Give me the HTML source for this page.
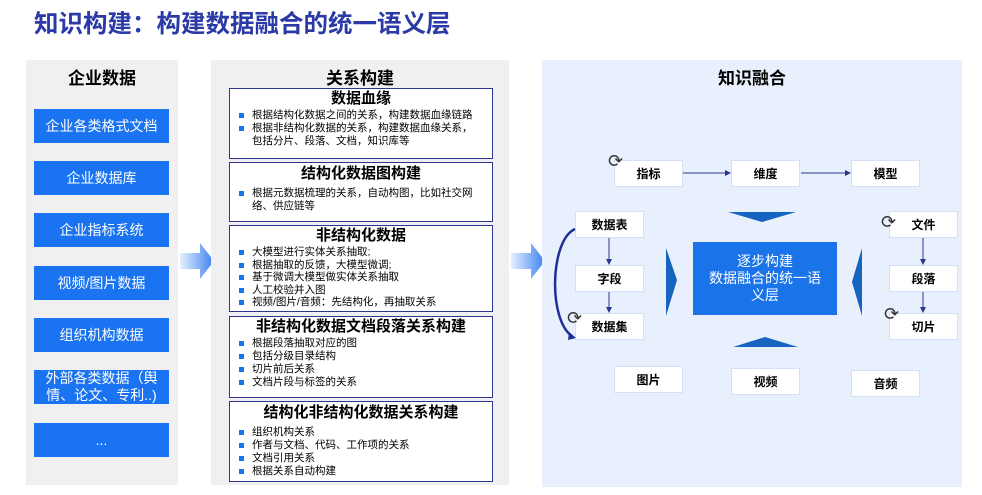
<!DOCTYPE html>
<html><head><meta charset="utf-8"><style>
*{margin:0;padding:0;box-sizing:border-box}
body{width:982px;height:495px;background:#fff;position:relative;overflow:hidden;font-family:"Liberation Sans","Noto Sans CJK SC",sans-serif}
.a{position:absolute}
.t{font-weight:bold;color:#000;text-align:center}
.lb{position:absolute;left:34px;width:135px;height:34px;background:#1a73f0;color:#fff;font-size:14px;display:flex;align-items:center;justify-content:center;text-align:center;line-height:17px}
.mb{position:absolute;left:229px;width:264px;border:1.5px solid #2c3590;background:#fff}
.mb h4{font-size:15px;text-align:center;font-weight:bold;line-height:20px}
.mb ul{list-style:none;font-size:10.5px;line-height:13px;padding-left:8px;padding-right:10px}
.mb li{position:relative;padding-left:14px}
.mb li:before{content:"";position:absolute;left:1px;top:4px;width:5px;height:5px;background:#1a73f0}
.n{position:absolute;width:69px;height:27px;background:#fff;border:1px solid #d4e0f5;font-size:12px;font-weight:bold;display:flex;align-items:center;justify-content:center}
.ic{position:absolute;font-size:18px;color:#333;line-height:18px}
</style></head><body>
<div class="a" style="left:34px;top:5px;font-size:24.5px;font-weight:bold;color:#2b3aa6">知识构建：构建数据融合的统一语义层</div>
<div class="a" style="left:26px;top:60px;width:152px;height:425px;background:#f0f0f2"></div>
<div class="a t" style="left:26px;top:64px;width:152px;font-size:17px">企业数据</div>
<div class="lb" style="top:109px">企业各类格式文档</div>
<div class="lb" style="top:161px">企业数据库</div>
<div class="lb" style="top:213px">企业指标系统</div>
<div class="lb" style="top:266px">视频/图片数据</div>
<div class="lb" style="top:318px">组织机构数据</div>
<div class="lb" style="top:370px">外部各类数据（舆情、论文、专利..)</div>
<div class="lb" style="top:423px">...</div>
<svg class="a" style="left:180px;top:243px" width="36" height="36"><defs><linearGradient id="g"><stop offset="0" stop-color="#e6efff"/><stop offset="1" stop-color="#3b82f0"/></linearGradient></defs><polygon points="0,10 20,10 20,0 34,18 20,36 20,26 0,26" fill="url(#g)"/></svg>
<svg class="a" style="left:511px;top:243px" width="36" height="36"><polygon points="0,10 20,10 20,0 34,18 20,36 20,26 0,26" fill="url(#g)"/></svg>
<div class="a" style="left:211px;top:60px;width:298px;height:425px;background:#f0f0f2"></div>
<div class="a t" style="left:211px;top:64px;width:298px;font-size:17px">关系构建</div>
<div class="mb" style="top:88px;height:71px"><h4>数据血缘</h4><ul><li>根据结构化数据之间的关系，构建数据血缘链路</li><li>根据非结构化数据的关系，构建数据血缘关系，包括分片、段落、文档，知识库等</li></ul></div>
<div class="mb" style="top:162px;height:60px"><h4 style="margin-top:1px">结构化数据图构建</h4><ul style="margin-top:3px"><li>根据元数据梳理的关系，自动构图，比如社交网络、供应链等</li></ul></div>
<div class="mb" style="top:225px;height:87px"><h4>非结构化数据</h4><ul style="line-height:12.5px"><li>大模型进行实体关系抽取;</li><li>根据抽取的反馈，大模型微调;</li><li>基于微调大模型做实体关系抽取</li><li>人工校验并入图</li><li>视频/图片/音频：先结构化，再抽取关系</li></ul></div>
<div class="mb" style="top:316px;height:82px"><h4>非结构化数据文档段落关系构建</h4><ul><li>根据段落抽取对应的图</li><li>包括分级目录结构</li><li>切片前后关系</li><li>文档片段与标签的关系</li></ul></div>
<div class="mb" style="top:401px;height:81px"><h4 style="margin-top:1px">结构化非结构化数据关系构建</h4><ul style="margin-top:3px"><li>组织机构关系</li><li>作者与文档、代码、工作项的关系</li><li>文档引用关系</li><li>根据关系自动构建</li></ul></div>
<div class="a" style="left:542px;top:60px;width:420px;height:427px;background:#e8f0fd"></div>
<div class="a t" style="left:542px;top:64px;width:420px;font-size:17px">知识融合</div>
<div class="n" style="left:614px;top:160px">指标</div>
<div class="n" style="left:731px;top:160px">维度</div>
<div class="n" style="left:851px;top:160px">模型</div>
<div class="n" style="left:575px;top:211px">数据表</div>
<div class="n" style="left:575px;top:265px">字段</div>
<div class="n" style="left:575px;top:313px">数据集</div>
<div class="n" style="left:889px;top:211px">文件</div>
<div class="n" style="left:889px;top:265px">段落</div>
<div class="n" style="left:889px;top:313px">切片</div>
<div class="n" style="left:614px;top:366px">图片</div>
<div class="n" style="left:731px;top:368px">视频</div>
<div class="n" style="left:851px;top:370px">音频</div>
<div class="a" style="left:693px;top:242px;width:144px;height:73px;background:#1a73e8;color:#fff;font-size:14px;text-align:center;line-height:17px;padding-top:11px">逐步构建<br>数据融合的统一语<br>义层</div>
<svg class="a" style="left:0;top:0" width="982" height="495">
<defs><marker id="ar" markerWidth="6" markerHeight="6" refX="5" refY="3" orient="auto"><path d="M0,0L6,3L0,6z" fill="#2c3590"/></marker></defs>
<g stroke="#2c3590" stroke-width="1" marker-end="url(#ar)">
<line x1="683" y1="173" x2="730" y2="173"/><line x1="801" y1="173" x2="850" y2="173"/>
<line x1="609" y1="238" x2="609" y2="264"/><line x1="609" y1="292" x2="609" y2="312"/>
<line x1="923" y1="238" x2="923" y2="264"/><line x1="923" y1="292" x2="923" y2="312"/>
</g>
<path d="M575,229 C550,240 548,320 572,336" stroke="#1f2f99" stroke-width="2.5" fill="none"/>
<polygon points="569,332 576,338 568,340" fill="#1f2f99"/>
<polygon points="728,212 796,212 762,222" fill="#1565c0"/>
<polygon points="733,347 798,347 765,337" fill="#1565c0"/>
<polygon points="666,248 677,280 666,316" fill="#1565c0"/>
<polygon points="862,248 852,282 862,316" fill="#1565c0"/>
</svg>
<div class="ic" style="left:608px;top:152px">⟳</div>
<div class="ic" style="left:881px;top:213px">⟳</div>
<div class="ic" style="left:884px;top:305px">⟳</div>
<div class="ic" style="left:567px;top:309px">⟳</div>
</body></html>
